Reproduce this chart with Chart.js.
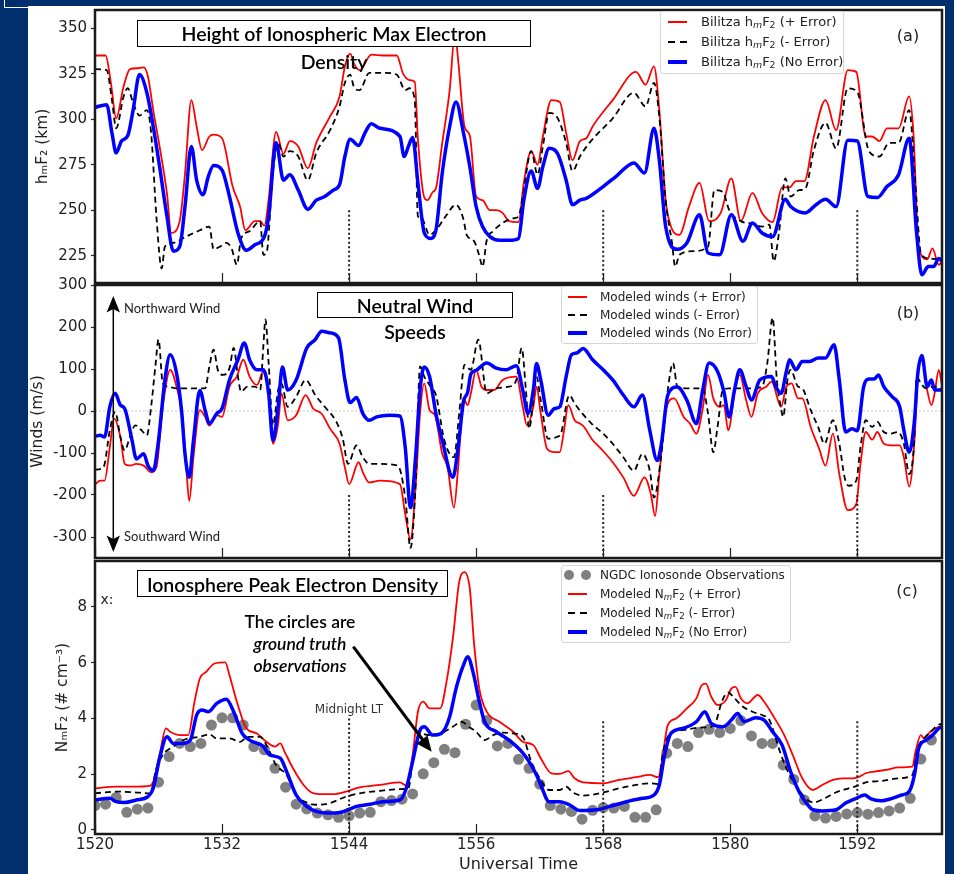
<!DOCTYPE html>
<html><head><meta charset="utf-8">
<script src="https://cdn.jsdelivr.net/npm/chart.js@4.4.1/dist/chart.umd.min.js"></script>
<style>
html,body{margin:0;padding:0}
body{position:relative;width:954px;height:874px;overflow:hidden;background:#012f6d;font-family:'DejaVu Sans',sans-serif}
#paper{position:absolute;left:28px;top:6px;width:917px;height:868px;background:#fff}
#corner{position:absolute;left:4px;top:-2px;width:940px;height:9px;border-left:1px solid #fff;border-bottom:1px solid #fff}
canvas{position:absolute;left:0}
.tbox{position:absolute;border:1px solid #000;background:#fff;box-sizing:border-box}
.ttext{position:absolute;font-family:Lato,sans-serif;font-size:19.5px;font-weight:600;color:#000;text-align:center;white-space:nowrap}
.leg{position:absolute;border:1px solid #d6d6d6;border-radius:3px;background:rgba(255,255,255,0.85);box-sizing:border-box}
.lt{position:absolute;font-family:'DejaVu Sans',sans-serif;color:#222;white-space:nowrap;line-height:16px}
.c{position:absolute;transform:translate(-50%,-50%);white-space:nowrap}
.ann{font-family:Lato,sans-serif;font-size:17.5px;font-weight:600;color:#000}
sub{font-size:72%;vertical-align:-0.25em;line-height:0}
#svg{position:absolute;left:0;top:0}
</style></head>
<body>
<div id="paper"></div>
<div id="corner"></div>
<canvas id="ca" width="954" height="310" style="top:-10px;width:954px;height:310px"></canvas>
<canvas id="cb" width="954" height="310" style="top:265px;width:954px;height:310px"></canvas>
<canvas id="cc" width="954" height="333" style="top:541px;width:954px;height:333px"></canvas>

<!-- title boxes -->
<div class="tbox" style="left:137px;top:20px;width:394px;height:27px"></div>
<div class="ttext" style="left:137px;top:20px;width:394px;line-height:28px">Height of Ionospheric Max Electron<br>Density</div>
<div class="tbox" style="left:317px;top:292px;width:196px;height:26px"></div>
<div class="ttext" style="left:317px;top:293px;width:196px;line-height:26px">Neutral Wind<br>Speeds</div>
<div class="tbox" style="left:137px;top:570px;width:311px;height:27px"></div>
<div class="ttext" style="left:137px;top:571px;width:311px;line-height:27px">Ionosphere Peak Electron Density</div>

<!-- legends -->
<div class="leg" style="left:660px;top:11px;width:184px;height:63px"></div>
<div class="leg" style="left:561px;top:286px;width:197px;height:58px"></div>
<div class="leg" style="left:561px;top:565px;width:230px;height:78px"></div>

<svg id="svg" width="954" height="874" xmlns="http://www.w3.org/2000/svg">
  <line x1="668" y1="22" x2="687" y2="22" stroke="#ff0000" stroke-width="2"/>
  <line x1="668" y1="42" x2="687" y2="42" stroke="#000" stroke-width="2" stroke-dasharray="7,5"/>
  <line x1="668" y1="62" x2="687" y2="62" stroke="#0000ff" stroke-width="4"/>
  <line x1="568" y1="297" x2="587" y2="297" stroke="#ff0000" stroke-width="2"/>
  <line x1="568" y1="315" x2="587" y2="315" stroke="#000" stroke-width="2" stroke-dasharray="7,5"/>
  <line x1="568" y1="333" x2="587" y2="333" stroke="#0000ff" stroke-width="4"/>
  <circle cx="569" cy="575" r="5" fill="#808080"/>
  <circle cx="586" cy="575" r="5" fill="#808080"/>
  <line x1="568" y1="594" x2="587" y2="594" stroke="#ff0000" stroke-width="2"/>
  <line x1="568" y1="613" x2="587" y2="613" stroke="#000" stroke-width="2" stroke-dasharray="7,5"/>
  <line x1="568" y1="632" x2="587" y2="632" stroke="#0000ff" stroke-width="4"/>
  <line x1="113.3" y1="306" x2="113.3" y2="541" stroke="#000" stroke-width="1.5"/>
  <path d="M113.3,296 L106.6,312.5 L113.3,309 L120,312.5 Z" fill="#000"/>
  <path d="M113.3,552 L106.6,535.5 L113.3,539 L120,535.5 Z" fill="#000"/>
  <line x1="353.3" y1="646.7" x2="424" y2="741.5" stroke="#000" stroke-width="3"/>
  <path d="M431.7,751.7 L416.5,743.5 L427.5,735.5 Z" fill="#000"/>
</svg>

<div class="lt" style="left:701px;top:14px;font-size:13px">Bilitza h<sub><i>m</i></sub>F<sub>2</sub> (+ Error)</div>
<div class="lt" style="left:701px;top:34px;font-size:13px">Bilitza h<sub><i>m</i></sub>F<sub>2</sub> (- Error)</div>
<div class="lt" style="left:701px;top:54px;font-size:13px">Bilitza h<sub><i>m</i></sub>F<sub>2</sub> (No Error)</div>
<div class="lt" style="left:600px;top:289px;font-size:12px">Modeled winds (+ Error)</div>
<div class="lt" style="left:600px;top:307px;font-size:12px">Modeled winds (- Error)</div>
<div class="lt" style="left:600px;top:325px;font-size:12px">Modeled winds (No Error)</div>
<div class="lt" style="left:600px;top:567px;font-size:12px">NGDC Ionosonde Observations</div>
<div class="lt" style="left:600px;top:586px;font-size:12px">Modeled N<sub><i>m</i></sub>F<sub>2</sub> (+ Error)</div>
<div class="lt" style="left:600px;top:605px;font-size:12px">Modeled N<sub><i>m</i></sub>F<sub>2</sub> (- Error)</div>
<div class="lt" style="left:600px;top:624px;font-size:12px">Modeled N<sub><i>m</i></sub>F<sub>2</sub> (No Error)</div>

<div class="c" style="left:908px;top:35px;font-size:16px;color:#222">(a)</div>
<div class="c" style="left:908px;top:312px;font-size:16px;color:#222">(b)</div>
<div class="c" style="left:907px;top:590px;font-size:16px;color:#222">(c)</div>
<div class="lt" style="left:124px;top:300px;font-family:Lato,sans-serif;font-size:13px">Northward Wind</div>
<div class="lt" style="left:124px;top:528px;font-family:Lato,sans-serif;font-size:13px">Southward Wind</div>
<div class="c" style="left:349px;top:709px;font-size:12px;color:#333">Midnight LT</div>
<div class="c" style="left:107px;top:599px;font-size:14px;color:#222">x:</div>
<div class="c ann" style="left:300px;top:621px">The circles are</div>
<div class="c ann" style="left:300px;top:643px;font-style:italic">ground truth</div>
<div class="c ann" style="left:300px;top:665px;font-style:italic">observations</div>

<script>
// ---------------- DATA ----------------
const xRange = [1520, 1600];
const xTickValues = [1520, 1532, 1544, 1556, 1568, 1580, 1592];
const midnightTimes = [1544, 1568, 1592];

// Panel (a): height of max electron density, km
const hmfRange = [210, 360];
const hmfTicks = [225, 250, 275, 300, 325, 350];
const hmfMidnightTop = [250, 250, 250];
const hmfPlus = [[1520,335],[1521,335],[1521.5,320],[1522,300.5],[1522.7,318],[1523.3,327.5],[1524,328],[1524.6,328.5],[1525,323.5],[1525.5,305],[1526.1,285],[1526.8,259],[1527.2,237.5],[1528,244],[1528.5,270],[1529.1,310.5],[1529.6,296],[1530.1,283],[1530.8,290.5],[1531.2,291.5],[1532,289.5],[1533,263],[1533.7,252],[1534.2,239],[1535.1,244],[1535.6,244],[1536,241.5],[1536.4,256],[1537.1,293],[1537.8,281],[1538.4,288],[1539.2,285],[1540.1,273],[1540.9,287],[1542.2,301.5],[1543.1,312.5],[1543.6,329],[1544.1,336],[1544.5,330],[1545,327],[1546.1,335.5],[1547.2,335],[1548.5,335],[1549.1,325],[1549.7,321.5],[1550.2,320.5],[1550.5,289],[1551.1,257],[1551.4,255.5],[1551.9,260],[1552.2,262],[1552.8,287],[1553.5,316],[1554,347],[1554.3,332.5],[1554.9,296],[1555.4,291],[1556,257.5],[1556.6,255.5],[1557.3,250],[1557.9,250],[1558.5,248.5],[1559.1,244],[1560,243.5],[1560.5,265],[1561.2,282.5],[1561.8,275],[1562.3,290.5],[1563.1,310.5],[1563.9,309.5],[1564.5,292.5],[1565.1,277.5],[1565.8,288],[1566.4,289.5],[1567,296],[1568.9,310.5],[1571.1,326],[1572,319],[1572.8,329],[1573.3,305],[1573.9,255.5],[1574.4,241],[1575.2,236.5],[1576.1,252],[1577.1,265],[1578,244],[1579.1,248.5],[1580.1,267.5],[1581,244],[1582.1,259.5],[1583,248.5],[1584,243.5],[1584.9,262.5],[1585.6,262.5],[1586.2,266],[1587,266],[1587.9,290.5],[1589,310.5],[1590,294],[1591.1,327],[1591.9,326],[1592.8,290.5],[1593.4,290.5],[1594.1,288],[1594.8,295],[1595.9,295],[1596.9,312.5],[1597.3,292.5],[1597.8,230],[1598.6,223],[1599.1,229],[1599.7,220],[1600,222]];
const hmfMinus = [[1520,327.5],[1521.1,327],[1521.6,310.5],[1522,295],[1522.7,312.5],[1523.1,317],[1523.6,309],[1524.2,302],[1524.9,305],[1525.3,292.5],[1525.8,246.5],[1526.3,218],[1526.6,230],[1527.4,232],[1528.6,235.5],[1529.9,239],[1530.8,241],[1531.2,228.5],[1531.8,230],[1532.4,232],[1532.9,229],[1533.4,220],[1533.8,234.5],[1534.6,238.5],[1535.6,244],[1535.9,225.5],[1536.2,226.5],[1536.8,270.5],[1537.3,287],[1537.8,279.5],[1538.4,282.5],[1539.2,279.5],[1540.1,266.5],[1540.9,281.5],[1542.2,294],[1543.1,307],[1543.6,320],[1544.1,324.5],[1544.5,317],[1545,316],[1545.9,325.5],[1547.2,325.5],[1548.5,324.5],[1549.3,316],[1549.7,317],[1550.2,310.5],[1550.5,246.5],[1550.8,246],[1551.6,236.5],[1552.2,239],[1553.1,246.5],[1554.1,253],[1554.8,245],[1555.1,236.5],[1555.8,233],[1556.3,225],[1556.6,219],[1557,233.5],[1557.6,238.5],[1558.5,243],[1559.5,245.5],[1560,246.5],[1560.4,257.5],[1561.2,282.5],[1561.8,269.5],[1562.3,285],[1562.9,303.5],[1563.7,300.5],[1564.5,287],[1565.1,271.5],[1565.8,279.5],[1566.7,287],[1568.9,300.5],[1570.9,314.5],[1572,307],[1572.8,320],[1573.3,301.5],[1573.9,255.5],[1574.5,232],[1574.8,219],[1575.2,225.5],[1576.5,227.5],[1577.9,230],[1578.5,261],[1579.3,260],[1579.9,250],[1581,244],[1582.1,242.5],[1583,241],[1583.7,242],[1584.1,222],[1584.6,237.5],[1585.2,267.5],[1585.7,257.5],[1586.5,261],[1587.1,262],[1587.9,283],[1589,298],[1590,284],[1591.1,317],[1592,315],[1593.1,282.5],[1594.1,279.5],[1595,287],[1595.9,287],[1596.9,305],[1597.5,263],[1598,226.5],[1598.7,223.5],[1599.7,223],[1600,222.5]];
const hmfNoErr = [[1520,306.5],[1521.1,308],[1521.6,292.5],[1522,281.5],[1522.5,288],[1523.1,291],[1523.6,305],[1524.2,324.5],[1524.9,314.5],[1525.5,296],[1526.1,274],[1526.8,246.5],[1527.4,227.5],[1528,230],[1528.5,252],[1529.1,285],[1529.6,266.5],[1530.2,258.5],[1530.7,268.5],[1531.2,274.5],[1532,272],[1532.7,257.5],[1533.5,237.5],[1534.3,228],[1535.1,231],[1536,235.5],[1536.4,246.5],[1537.1,287],[1537.8,266.5],[1538.4,269.5],[1539.2,261],[1540.1,250.5],[1540.9,255.5],[1541.7,257.5],[1542.5,261],[1543.1,264],[1543.6,279.5],[1544.1,289],[1544.9,285.5],[1545.5,292.5],[1546.1,297.5],[1546.9,295],[1548.8,290.5],[1549.2,279.5],[1549.6,285],[1550,290],[1550.5,265],[1551.1,237.5],[1551.7,234.5],[1552.2,239],[1552.8,270.5],[1553.5,296],[1554.1,309.5],[1554.8,292.5],[1555.4,274],[1556,252],[1556.6,241],[1557.3,235.5],[1558.2,233.5],[1559.1,233.5],[1560,234.5],[1560.5,255.5],[1561.2,271.5],[1561.8,262],[1562.3,274],[1562.9,284],[1563.7,281],[1564.5,266.5],[1565.1,253],[1565.8,255.5],[1566.4,256.5],[1568,263],[1569.2,268.5],[1570.9,276],[1571.9,270.5],[1572.8,295],[1573.3,277.5],[1573.9,241],[1575,228.5],[1575.9,232],[1577.1,247.5],[1577.9,226.5],[1579,225.5],[1580.1,247.5],[1581.2,233],[1582.1,243],[1583,237.5],[1584,235.5],[1585.2,256],[1585.7,252],[1587.1,248.5],[1588.1,253],[1589,256],[1590,252],[1591.1,288.5],[1592,288],[1593,257.5],[1593.9,257],[1594.8,263],[1595.9,269.5],[1596.9,289.5],[1597.6,237.5],[1598.1,214.5],[1598.7,219],[1599.2,219],[1599.7,223.5],[1600,222]];

// Panel (b): neutral winds, m/s
const windRange = [-350, 300];
const windTicks = [-300, -200, -100, 0, 100, 200, 300];
const windMidnightTop = [-200, -200, -200];
const windZero = [[1520,0],[1600,0]];
const windPlus = [[1520,-175],[1520.5,-166],[1520.9,-166],[1521.4,-86],[1521.8,-18],[1522.4,-62],[1522.8,-126],[1523.3,-130],[1523.9,-126],[1524.6,-130],[1525.3,-146],[1525.8,-134],[1526.4,10],[1527.1,98],[1527.7,58],[1528.2,-6],[1528.6,-126],[1528.9,-214],[1529.3,-110],[1529.9,2],[1530.4,-14],[1530.8,-35],[1531.5,-10],[1532,-14],[1532.7,58],[1533.4,82],[1534,122],[1534.6,82],[1535.3,62],[1535.9,94],[1536.4,42],[1536.8,-78],[1537.3,-30],[1537.6,42],[1538.2,-22],[1539,-10],[1539.9,38],[1540.6,6],[1541.4,-6],[1542.2,-42],[1543.1,-78],[1543.6,-134],[1544,-174],[1544.9,-122],[1545.3,-146],[1545.9,-170],[1546.9,-166],[1548.8,-174],[1549.3,-246],[1549.8,-306],[1550.3,-174],[1550.7,-6],[1551.1,66],[1551.6,2],[1552.1,-10],[1552.8,-102],[1553.3,-134],[1553.9,-230],[1554.3,-134],[1554.8,30],[1555.2,14],[1555.5,42],[1556,98],[1556.5,58],[1557,50],[1557.7,50],[1558.5,74],[1559.8,82],[1560.4,10],[1560.8,-34],[1561.4,10],[1561.7,58],[1562.1,-6],[1562.7,-90],[1563.4,-98],[1563.9,-98],[1564.3,-46],[1564.7,14],[1565.3,-22],[1565.8,-30],[1566.2,-38],[1566.9,-66],[1567.8,-90],[1568.9,-122],[1569.9,-158],[1570.9,-202],[1571.9,-158],[1572.5,-198],[1572.9,-250],[1573.3,-150],[1574,10],[1574.7,30],[1575.6,-14],[1576.2,-30],[1576.8,-54],[1577.4,6],[1577.9,86],[1578.4,30],[1579,10],[1579.4,14],[1579.8,-46],[1580.5,58],[1580.9,86],[1581.5,26],[1582,-14],[1582.6,42],[1583.4,58],[1583.9,70],[1584.8,10],[1585.3,58],[1585.8,66],[1586.4,30],[1586.8,30],[1587.6,-38],[1588.4,-90],[1589,-130],[1589.7,-54],[1590.3,-150],[1591.1,-236],[1591.9,-222],[1592.3,-126],[1592.8,-50],[1593.4,-68],[1593.9,-50],[1594.5,-78],[1595.3,-82],[1596,-82],[1596.4,-110],[1596.9,-180],[1597.4,-70],[1597.7,74],[1598.1,132],[1598.6,50],[1599,14],[1599.3,42],[1599.7,98],[1600,60]];
const windMinus = [[1520,-140],[1520.8,-134],[1521.4,-46],[1521.9,-2],[1522.4,-62],[1522.8,-94],[1523.3,-62],[1523.8,-34],[1524.4,-46],[1524.9,-58],[1525.3,10],[1525.7,106],[1526,170],[1526.4,66],[1526.9,58],[1527.7,54],[1528.6,54],[1530.4,54],[1530.8,106],[1531.2,146],[1531.6,98],[1532.1,86],[1532.7,102],[1533.1,150],[1533.5,82],[1533.8,46],[1534.4,58],[1535.1,58],[1535.6,50],[1535.9,154],[1536.1,218],[1536.4,114],[1536.8,-34],[1537.3,50],[1537.6,66],[1538.2,10],[1539,34],[1539.9,74],[1540.8,38],[1541.7,10],[1542.8,-26],[1543.4,-66],[1543.9,-126],[1544.7,-82],[1545.3,-110],[1545.9,-126],[1546.9,-126],[1548.6,-130],[1549.3,-206],[1549.8,-326],[1550.3,-166],[1550.7,106],[1551.1,82],[1551.7,58],[1552.2,38],[1553,-70],[1553.9,-110],[1554.4,-6],[1554.9,110],[1555.5,98],[1556.2,170],[1557,42],[1557.9,54],[1559.1,58],[1559.8,74],[1560.3,150],[1560.7,50],[1561,-42],[1561.5,50],[1561.7,82],[1562.1,26],[1562.8,-66],[1563.6,-62],[1564,-54],[1564.8,38],[1565.3,18],[1565.9,-2],[1566.9,-30],[1568,-54],[1568.9,-78],[1569.9,-110],[1570.9,-142],[1571.7,-102],[1572.4,-142],[1572.8,-206],[1573.5,-102],[1574.1,50],[1574.6,114],[1575,58],[1576.1,54],[1577.4,54],[1577.9,-6],[1578.4,-98],[1578.8,-38],[1579.3,50],[1579.9,54],[1582.1,54],[1583,58],[1583.5,114],[1584,222],[1584.4,74],[1584.8,6],[1585,-14],[1585.4,74],[1585.7,98],[1586.4,58],[1586.8,54],[1587.6,2],[1588.3,-38],[1588.9,-78],[1589.7,-22],[1590.3,-78],[1590.8,-158],[1591.2,-178],[1591.9,-166],[1592.3,-86],[1592.8,-22],[1593.4,-38],[1593.9,-26],[1594.5,-50],[1595.1,-54],[1595.8,-50],[1596.4,-78],[1596.9,-150],[1597.4,-62],[1597.6,82],[1598,66],[1598.5,54],[1599.2,58],[1600,54]];
const windNoErr = [[1520,-60],[1520.5,-58],[1520.9,-62],[1521.4,10],[1521.9,42],[1522.4,14],[1522.8,6],[1523.5,-70],[1523.9,-114],[1524.6,-102],[1525,-130],[1525.5,-142],[1526,-70],[1526.6,74],[1527.1,134],[1527.7,90],[1528.2,-6],[1528.5,-102],[1528.9,-158],[1529.3,-70],[1529.9,49],[1530.4,2],[1530.8,-30],[1531.5,-6],[1532,6],[1532.7,74],[1533.5,122],[1534.1,162],[1534.6,122],[1535.3,98],[1535.9,98],[1536.4,42],[1536.8,-70],[1537.3,10],[1537.7,105],[1538.2,50],[1539,74],[1540,150],[1540.8,170],[1541.4,190],[1542.2,186],[1543,174],[1543.6,74],[1544.1,20],[1544.7,32],[1545.3,-6],[1545.9,-22],[1546.6,-14],[1547.8,-10],[1548.8,-12],[1549.3,-86],[1549.8,-230],[1550.3,-102],[1550.7,50],[1551.1,105],[1551.6,82],[1552.2,-6],[1552.8,-70],[1553.8,-158],[1554.3,-86],[1554.8,22],[1555.2,45],[1555.5,88],[1556,97],[1557,114],[1557.9,102],[1558.8,98],[1559.8,108],[1560.4,50],[1560.9,-6],[1561.4,50],[1561.7,113],[1562.1,74],[1562.8,-10],[1563.4,6],[1563.9,10],[1564.5,82],[1565,134],[1565.5,138],[1566.1,149],[1567,122],[1568,98],[1568.9,74],[1569.9,38],[1570.9,10],[1571.7,38],[1572.4,-46],[1573.1,-118],[1573.5,-78],[1574.1,38],[1575,57],[1575.9,26],[1576.8,-30],[1577.4,50],[1578,114],[1578.8,94],[1579.4,46],[1579.9,-14],[1580.4,50],[1580.9,98],[1581.5,58],[1582,26],[1582.8,74],[1583.9,82],[1584.3,58],[1584.8,42],[1585.3,94],[1585.6,122],[1586.2,98],[1586.8,118],[1587.5,118],[1588.3,126],[1589,126],[1589.8,158],[1590.3,74],[1590.9,-50],[1591.5,-42],[1592,-47],[1592.6,58],[1593.1,76],[1593.6,76],[1594,86],[1594.5,58],[1595.3,34],[1596,10],[1596.4,-46],[1596.9,-98],[1597.4,-22],[1597.7,86],[1598.1,132],[1598.6,58],[1599,74],[1599.3,50],[1599.8,50],[1600,50]];

// Panel (c): peak electron density
const nmfRange = [-0.15, 9.65];
const nmfTicks = [0, 2, 4, 6, 8];
const nmfMidnightTop = [4.0, 3.9, 3.9];
const nmfObs = [[1520,0.87],[1521,0.92],[1522,1.16],[1523,0.63],[1524,0.74],[1525,0.78],[1526,1.71],[1527,2.63],[1528,3.1],[1529,2.99],[1530,3.1],[1531,3.76],[1532,4.02],[1533,4.02],[1534,3.76],[1535,2.99],[1536,2.87],[1537,2.21],[1538,1.53],[1539,0.92],[1540,0.75],[1541,0.6],[1542,0.54],[1543,0.45],[1544,0.5],[1545,0.6],[1546,0.63],[1547,1.01],[1548,1.05],[1549,1.1],[1550,1.29],[1551,2.01],[1552,2.41],[1553,2.89],[1554,2.77],[1555,3.79],[1556,4.48],[1557,3.92],[1558,3.01],[1559,3.1],[1560,2.53],[1561,2.21],[1562,1.64],[1563,0.87],[1564,0.74],[1565,0.66],[1566,0.38],[1567,0.7],[1568,0.8],[1569,0.78],[1570,0.84],[1571,0.45],[1572,0.45],[1573,0.72],[1574,2.75],[1575,3.1],[1576,2.99],[1577,3.49],[1578,3.61],[1579,3.49],[1580,3.64],[1581,3.92],[1582,3.37],[1583,3.1],[1584,3.1],[1585,2.33],[1586,1.81],[1587,1.07],[1588,0.5],[1589,0.42],[1590,0.48],[1591,0.57],[1592,0.62],[1593,0.56],[1594,0.62],[1595,0.68],[1596,0.78],[1597,1.13],[1598,2.54],[1599,3.22]];
const nmfPlus = [[1520,1.49],[1522,1.55],[1523.6,1.55],[1525.2,1.58],[1525.5,1.73],[1526.1,2.69],[1526.7,3.64],[1527.1,3.52],[1528,3.4],[1528.8,3.4],[1529.4,4.6],[1529.9,5.43],[1530.5,5.67],[1531.3,5.97],[1532.3,6.01],[1532.7,5.55],[1533.4,4.6],[1534.3,3.64],[1535.3,3.46],[1536,3.22],[1537,2.99],[1537.5,3.1],[1537.9,2.81],[1538.7,2.21],[1539.7,1.61],[1540.4,1.35],[1541.2,1.28],[1542.5,1.28],[1543.7,1.37],[1545,1.52],[1546.9,1.61],[1548.8,1.7],[1549.4,1.59],[1550,2.69],[1550.5,4.24],[1551,4.6],[1551.6,4.36],[1552.6,4.36],[1553.2,5.31],[1553.8,6.87],[1554.4,8.9],[1554.9,9.25],[1555.4,8.66],[1555.8,6.7],[1556.3,5.07],[1557,4.24],[1558.2,3.88],[1559.5,3.52],[1560.4,3.16],[1561.4,3.04],[1562.1,2.57],[1563.1,2.03],[1563.9,2.01],[1564.7,2.11],[1565.3,1.85],[1566.1,1.7],[1568,1.67],[1569.5,1.79],[1571.1,1.89],[1572.4,1.97],[1573.2,1.89],[1573.5,2.33],[1574.1,3.76],[1574.9,4],[1575.9,4.36],[1576.8,4.72],[1577.3,5.19],[1577.7,5.25],[1578.2,4.78],[1578.8,4.48],[1579.6,4.66],[1580.1,5.07],[1580.5,5.13],[1581,4.72],[1581.6,4.54],[1582.6,4.84],[1583.2,4.6],[1584.2,4],[1585.1,3.4],[1585.9,2.69],[1586.8,1.85],[1587.8,1.43],[1588.7,1.61],[1589.7,1.79],[1590.6,1.85],[1591.6,1.85],[1592.2,1.91],[1592.8,2.03],[1593.6,2.09],[1594.7,2.15],[1595.9,2.24],[1597.2,2.27],[1597.5,2.81],[1598,3.4],[1598.3,3.28],[1598.9,3.52],[1599.7,3.7],[1600,3.72]];
const nmfMinus = [[1520,1.31],[1522,1.37],[1523.6,1.35],[1525.2,1.31],[1525.8,2.21],[1526.4,2.69],[1527.4,2.99],[1528.6,3.26],[1529.9,3.34],[1530.8,3.43],[1531.5,3.28],[1532.7,3.28],[1533.7,3.16],[1534.4,3.34],[1535.6,3.34],[1536.2,3.04],[1537.1,2.33],[1538.1,1.97],[1539,1.25],[1540.1,0.96],[1541.1,0.9],[1542.2,0.96],[1543.7,1.19],[1545,1.31],[1546.9,1.4],[1548.8,1.46],[1549.6,1.49],[1550,2.45],[1550.7,3.46],[1551.6,3.4],[1552.6,3.46],[1553.8,3.7],[1554.6,3.88],[1555.4,3.67],[1556,3.52],[1556.8,3.22],[1557.6,3.4],[1558.5,3.49],[1559.5,3.46],[1560.4,3.34],[1561.2,2.45],[1562,1.85],[1562.9,1.43],[1563.9,1.43],[1564.5,1.55],[1565.1,1.35],[1566.1,1.23],[1568,1.34],[1569.5,1.49],[1571.1,1.61],[1572.4,1.67],[1573.2,1.64],[1573.6,2.69],[1574.3,3.46],[1575.5,3.58],[1577.1,3.67],[1578.2,3.7],[1578.7,3.94],[1579.2,4.6],[1579.8,4.93],[1580.4,4.72],[1581.2,4.42],[1582.1,4.24],[1583,4.12],[1583.7,3.94],[1584.2,3.4],[1584.8,2.69],[1585.6,1.97],[1586.4,1.49],[1587.1,1.13],[1587.9,0.98],[1588.9,1.13],[1590,1.35],[1591.2,1.49],[1592,1.58],[1592.8,1.7],[1594.4,1.76],[1595.9,1.85],[1597.2,1.97],[1597.7,2.93],[1598.3,3.28],[1599.1,3.58],[1599.6,3.76],[1600,3.8]];
const nmfNoErr = [[1520,1.07],[1521.4,1.13],[1522,1.01],[1522.8,0.98],[1523.9,1.07],[1525,1.19],[1525.5,1.49],[1526.1,2.57],[1526.8,3.34],[1527.4,3.1],[1528.2,3.1],[1529,3.22],[1529.6,4.12],[1530.1,4.3],[1530.7,4.24],[1531.5,4.54],[1532.4,4.69],[1533.1,4.24],[1533.9,3.46],[1534.6,3.22],[1535.9,2.99],[1536.5,2.69],[1537.5,2.57],[1538.1,2.09],[1539,1.25],[1540,0.84],[1540.9,0.66],[1542.2,0.6],[1543.1,0.62],[1543.9,0.72],[1544.7,0.84],[1546,0.92],[1547.2,1.01],[1548.8,1.07],[1549.4,1.49],[1550,2.45],[1550.7,3.58],[1551.1,3.7],[1551.9,3.4],[1552.7,3.46],[1553.5,4.06],[1554.1,5.07],[1554.8,5.91],[1555.2,6.21],[1555.7,5.67],[1556.3,4.6],[1556.8,3.88],[1557.9,3.52],[1559.1,3.22],[1560.3,2.81],[1561,2.45],[1561.7,1.97],[1562.1,1.61],[1562.9,1.01],[1563.9,1.01],[1564.8,0.9],[1565.8,0.69],[1567.4,0.72],[1568.6,0.84],[1570.2,1.01],[1571.7,1.13],[1572.8,1.25],[1573.3,1.61],[1573.8,2.69],[1574.4,3.46],[1575.5,3.64],[1576.8,3.88],[1577.6,4.24],[1578.2,3.82],[1579.3,3.7],[1580.1,3.94],[1580.7,4.18],[1581.3,3.88],[1582.4,4.02],[1583.2,3.94],[1584,3.52],[1584.9,3.04],[1585.7,2.09],[1586.5,1.37],[1587.1,1.01],[1587.8,0.72],[1588.7,0.68],[1590,0.72],[1590.9,0.96],[1591.9,1.13],[1592.7,1.25],[1593.3,1.11],[1594.2,1.04],[1595.3,1.13],[1596.2,1.25],[1596.9,1.37],[1597.4,1.97],[1597.8,2.93],[1598.5,3.22],[1599.1,3.4],[1599.7,3.64],[1600,3.7]];

// ---------------- HELPERS ----------------
const RED = '#ff0000', BLUE = '#0000ff', BLACK = '#000000', GREY = '#808080';
Chart.defaults.font.family = "'DejaVu Sans', sans-serif";
Chart.defaults.color = '#222';

function pts(a) { return a.map(p => ({ x: p[0], y: p[1] })); }
function midnight(tops, bottom) {
  const d = [];
  midnightTimes.forEach((t, i) => { d.push({ x: t, y: tops[i] }, { x: t, y: bottom }, { x: t, y: null }); });
  return d;
}
function lineDs(data, color, width, dash, order) {
  return { data: pts(data), borderColor: color, borderWidth: width, borderDash: dash || [], pointRadius: 0,
           fill: false, cubicInterpolationMode: 'monotone', order: order };
}
function midDs(tops, bottom) {
  return { data: midnight(tops, bottom), borderColor: '#222', borderWidth: 2, borderDash: [2, 2.5],
           pointRadius: 0, fill: false, tension: 0, spanGaps: false, order: 0 };
}

const framePlugin = {
  id: 'frame',
  afterDatasetsDraw(chart) {
    const { ctx, chartArea: a } = chart;
    const xs = chart.scales.x;
    ctx.save();
    ctx.strokeStyle = '#222'; ctx.lineWidth = 1.2;
    xTickValues.forEach(v => {
      const px = Math.round(xs.getPixelForValue(v)) + 0.5;
      ctx.beginPath(); ctx.moveTo(px, a.bottom); ctx.lineTo(px, a.bottom - 10); ctx.stroke();
    });
    ctx.strokeStyle = '#1a1a1a'; ctx.lineWidth = 2.5;
    ctx.strokeRect(a.left, a.top, a.right - a.left, a.bottom - a.top);
    ctx.restore();
  }
};

function makeChart(id, datasets, range, ticks, title, titlePad, showX) {
  const x = {
    type: 'linear', min: xRange[0], max: xRange[1], display: showX,
    afterBuildTicks: s => { s.ticks = xTickValues.map(v => ({ value: v })); },
    grid: { drawOnChartArea: false, drawTicks: false },
    border: { display: false },
    ticks: { padding: 2, font: { size: 15 }, color: '#222', maxRotation: 0, autoSkip: false, callback: v => String(v) },
    title: { display: showX, text: 'Universal Time', font: { size: 16 }, color: '#222', padding: { top: 0, bottom: 0 } },
    afterFit: s => { if (showX) s.height = 40; s.paddingLeft = 0; s.paddingRight = 0; }
  };
  const y = {
    type: 'linear', min: range[0], max: range[1],
    afterBuildTicks: s => { s.ticks = ticks.map(v => ({ value: v })); },
    grid: { drawOnChartArea: false, drawTicks: true, tickLength: 4, tickColor: '#222', tickWidth: 1.2 },
    border: { display: false },
    ticks: { padding: 4, font: { size: 15 }, color: '#222', callback: v => String(v) },
    title: { display: true, text: title, font: { size: 15.5 }, color: '#222', padding: { top: titlePad, bottom: 0 } },
    afterFit: s => { s.width = 95; s.paddingTop = 0; s.paddingBottom = 0; }
  };
  return new Chart(document.getElementById(id), {
    type: 'line',
    data: { datasets: datasets },
    options: {
      responsive: false, animation: false, devicePixelRatio: 1,
      layout: { padding: { left: 0, right: 12, top: 20, bottom: showX ? 0 : 17 } },
      plugins: { legend: { display: false }, tooltip: { enabled: false } },
      scales: { x: x, y: y }
    },
    plugins: [framePlugin]
  });
}

// ---------------- CHARTS ----------------
makeChart('ca', [
  midDs(hmfMidnightTop, hmfRange[0]),
  lineDs(hmfNoErr, BLUE, 3.5, null, 1),
  lineDs(hmfMinus, BLACK, 1.8, [6, 4], 2),
  lineDs(hmfPlus, RED, 1.8, null, 3)
], hmfRange, hmfTicks, 'h\u2098F\u2082 (km)', 34, false);

makeChart('cb', [
  midDs(windMidnightTop, windRange[0]),
  lineDs(windNoErr, BLUE, 3.5, null, 1),
  lineDs(windMinus, BLACK, 1.8, [6, 4], 2),
  lineDs(windPlus, RED, 1.8, null, 3),
  { data: pts(windZero), borderColor: '#c8c8c8', borderWidth: 1, borderDash: [2, 2], pointRadius: 0, order: 10 }
], windRange, windTicks, 'Winds (m/s)', 29, false);

makeChart('cc', [
  midDs(nmfMidnightTop, nmfRange[0]),
  lineDs(nmfNoErr, BLUE, 3.5, null, 1),
  lineDs(nmfMinus, BLACK, 1.8, [6, 4], 2),
  lineDs(nmfPlus, RED, 1.8, null, 3),
  { data: pts(nmfObs), showLine: false, pointRadius: 5.5, pointBackgroundColor: GREY, pointBorderWidth: 0,
    borderColor: GREY, order: 4 }
], nmfRange, nmfTicks, 'N\u2098F\u2082 (# cm\u207B\u00B3)', 54, true);
</script>
</body></html>
